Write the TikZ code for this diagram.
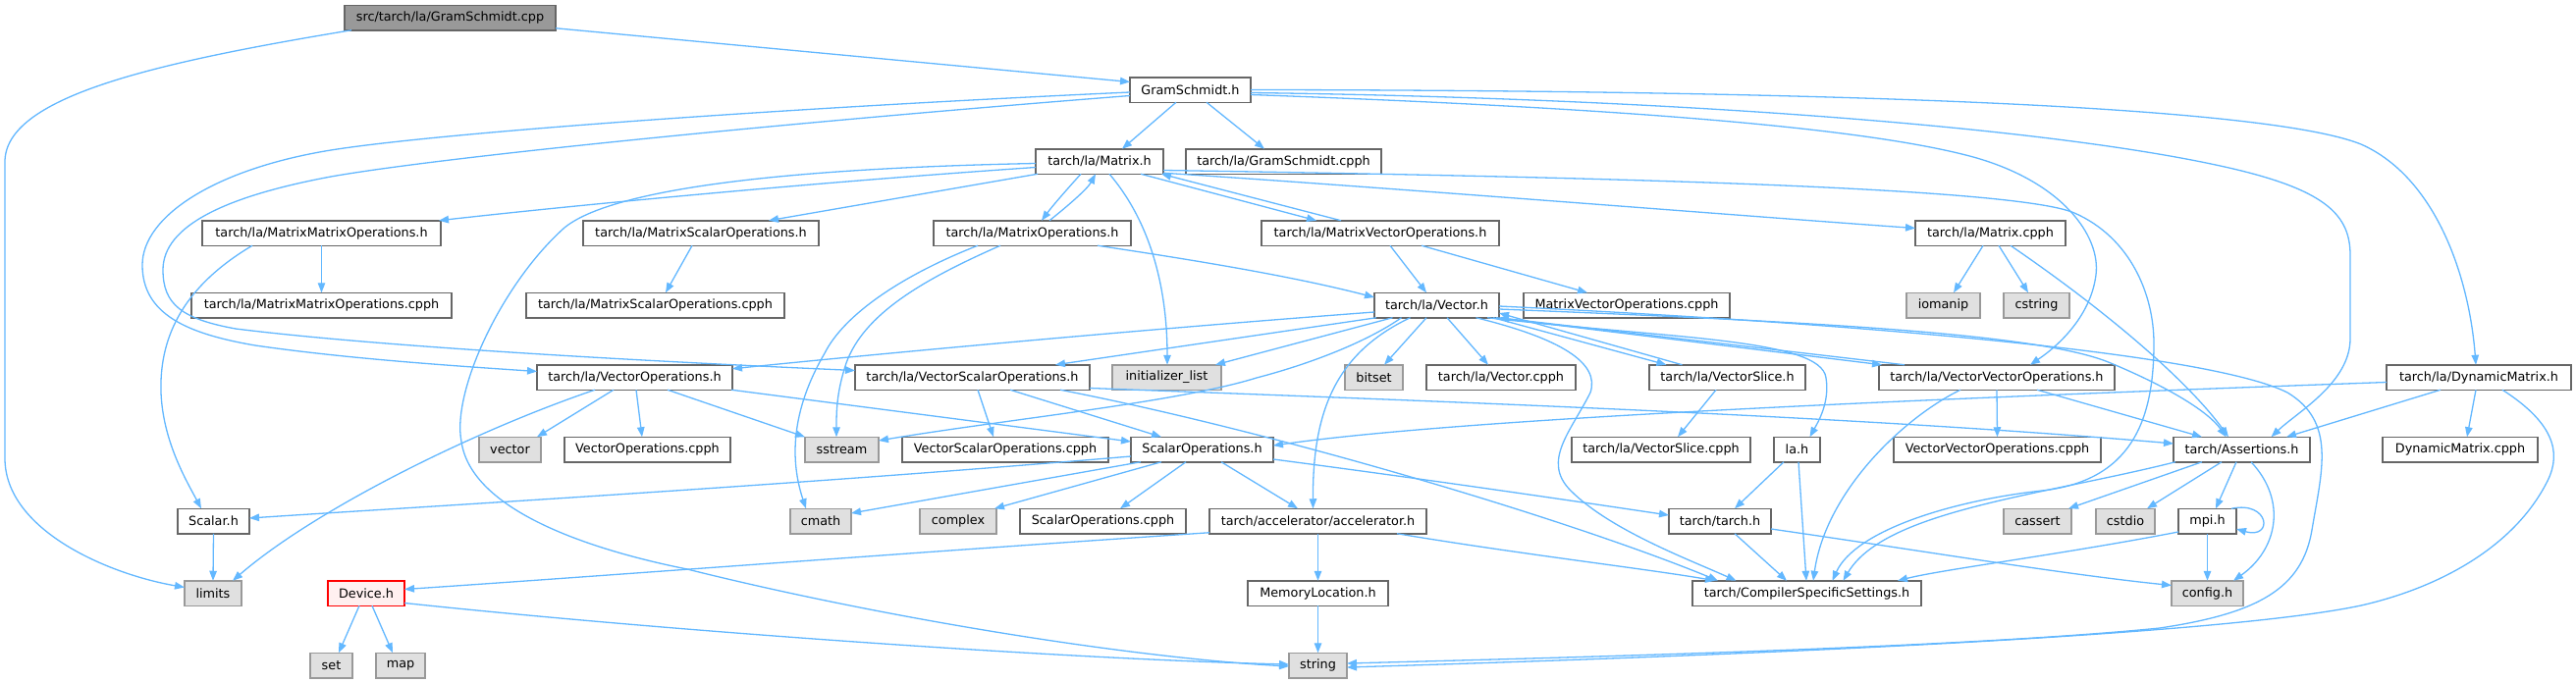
\documentclass[tikz,border=0pt]{standalone}
\usepackage{fontspec}
\setmainfont{DejaVu Sans}
\usetikzlibrary{arrows.meta,calc}
\definecolor{edgec}{HTML}{63B8FF}
\definecolor{bord}{HTML}{666666}
\definecolor{extb}{HTML}{999999}
\definecolor{extf}{HTML}{E0E0E0}
\definecolor{rootf}{HTML}{999999}
\definecolor{devf}{HTML}{FFF0F0}
\definecolor{devb}{HTML}{FF0000}
\tikzset{
 box/.style={draw=bord, fill=white, line width=1.5pt, minimum height=25.5pt, inner sep=0pt, outer sep=0pt, font=\fontsize{12.8pt}{15pt}\selectfont, text=black},
 ext/.style={box, draw=extb, fill=extf},
 rootbox/.style={box, draw=bord, fill=rootf},
 devbox/.style={box, draw=devb, fill=devf},
 e/.style={draw=edgec, line width=1.3pt, -{Triangle[length=10pt,width=7.5pt]}},
}
\newcommand\gnode[6]{\node[#1, minimum width=#4pt] (#2) at (#3,#5) {#6};}
\begin{document}
\begin{tikzpicture}[x=1pt,y=-1pt]
\fill[white] (0,0) rectangle (2624,696);
\useasboundingbox (0,0) rectangle (2624,696);
% row 0
\gnode{rootbox}{gsCpp}{458.5}{215}{18}{src/tarch/la/GramSchmidt.cpp}
% row 1
\gnode{box}{gsH}{1212.5}{123}{91.5}{GramSchmidt.h}
% row 2
\gnode{box}{matH}{1120}{130}{164.5}{tarch/la/Matrix.h}
\gnode{box}{gsCpph}{1307.5}{199}{164.5}{tarch/la/GramSchmidt.cpph}
% row 3
\gnode{box}{mmoH}{327.5}{243}{237.5}{tarch/la/MatrixMatrixOperations.h}
\gnode{box}{msoH}{714}{240}{237.5}{tarch/la/MatrixScalarOperations.h}
\gnode{box}{moH}{1051.5}{201}{237.5}{tarch/la/MatrixOperations.h}
\gnode{box}{mvoH}{1406}{242}{237.5}{tarch/la/MatrixVectorOperations.h}
\gnode{box}{matCpph}{2027.5}{153}{237.5}{tarch/la/Matrix.cpph}
% row 4
\gnode{box}{mmoCpph}{327.5}{265}{311}{tarch/la/MatrixMatrixOperations.cpph}
\gnode{box}{msoCpph}{667.5}{263}{311}{tarch/la/MatrixScalarOperations.cpph}
\gnode{box}{vecH}{1463.5}{127}{311}{tarch/la/Vector.h}
\gnode{box}{mvoCpph}{1657}{210}{311}{MatrixVectorOperations.cpph}
\gnode{ext}{iomanip}{1979.5}{75}{311}{iomanip}
\gnode{ext}{cstring}{2074.5}{67}{311}{cstring}
% row 5
\gnode{box}{voH}{646.5}{199}{384.5}{tarch/la/VectorOperations.h}
\gnode{box}{vsoH}{990.5}{239}{384.5}{tarch/la/VectorScalarOperations.h}
\gnode{ext}{initl}{1188.5}{111}{384.5}{initializer\_list}
\gnode{ext}{bitset}{1399.5}{59}{384.5}{bitset}
\gnode{box}{vecCpph}{1529}{152}{384.5}{tarch/la/Vector.cpph}
\gnode{box}{vsH}{1759.5}{159}{384.5}{tarch/la/VectorSlice.h}
\gnode{box}{vvoH}{2034}{240}{384.5}{tarch/la/VectorVectorOperations.h}
\gnode{box}{dmH}{2525}{188}{384.5}{tarch/la/DynamicMatrix.h}
% row 6
\gnode{ext}{vector}{519.5}{63}{458}{vector}
\gnode{box}{voCpph}{659.5}{169}{458}{VectorOperations.cpph}
\gnode{ext}{sstream}{857.5}{75}{458}{sstream}
\gnode{box}{vsoCpph}{1024}{210}{458}{VectorScalarOperations.cpph}
\gnode{box}{soH}{1224.5}{145}{458}{ScalarOperations.h}
\gnode{box}{vsCpph}{1692}{182}{458}{tarch/la/VectorSlice.cpph}
\gnode{box}{laH}{1830.5}{47}{458}{la.h}
\gnode{box}{vvoCpph}{2034.5}{211}{458}{VectorVectorOperations.cpph}
\gnode{box}{assertH}{2283.5}{139}{458}{tarch/Assertions.h}
\gnode{box}{dmCpph}{2506}{158}{458}{DynamicMatrix.cpph}
% row 7
\gnode{box}{scalarH}{217.5}{73}{531}{Scalar.h}
\gnode{ext}{cmath}{836}{62}{531}{cmath}
\gnode{ext}{complex}{976}{78}{531}{complex}
\gnode{box}{soCpph}{1123.5}{169}{531}{ScalarOperations.cpph}
\gnode{box}{accH}{1342.5}{221}{531}{tarch/accelerator/accelerator.h}
\gnode{box}{tarchH}{1752}{104}{531}{tarch/tarch.h}
\gnode{ext}{cassert}{2075.5}{69}{531}{cassert}
\gnode{ext}{cstdio}{2165}{60}{531}{cstdio}
\gnode{box}{mpiH}{2248.5}{59}{531}{mpi.h}
% row 8
\gnode{ext}{limits}{217}{58}{604.5}{limits}
\gnode{devbox}{device}{373}{78}{604.5}{Device.h}
\gnode{box}{memLoc}{1342.5}{143}{604.5}{MemoryLocation.h}
\gnode{box}{css}{1840.5}{233}{604.5}{tarch/CompilerSpecificSettings.h}
\gnode{ext}{config}{2248.5}{73}{604.5}{config.h}
% row 9
\gnode{ext}{set}{337.5}{43}{678}{set}
\gnode{ext}{map}{408}{50}{678}{map}
\gnode{ext}{string}{1342.5}{59}{678}{string}

% ---- edges ----
\draw[e] ($(gsCpp.south east)+(0,-2)$) -- ($(gsH.west)+(0,-8)$);
\draw[e] ($(gsCpp.south west)+(7,0)$) .. controls (150,65) and (5,100) .. (5,165) -- (5,467) .. controls (5,540) and (110,585) .. ($(limits.west)+(0,-6)$);

\draw[e] ($(gsH.south)+(-14.5,0)$) -- ($(matH.north)+(23,0)$);
\draw[e] ($(gsH.south)+(16.5,0)$) -- ($(gsCpph.north)+(-19.5,0)$);
\draw[e] ($(gsH.west)+(0,2.5)$) .. controls (800,110) and (450,135) .. (337,153) .. controls (220,172) and (145,220) .. (145,270) .. controls (145,320) and (190,340) .. (260,352) .. controls (350,365) and (450,372) .. ($(voH.west)+(0,-6)$);
\draw[e] ($(gsH.west)+(0,6)$) .. controls (800,125) and (450,160) .. (337,180) .. controls (230,200) and (166,230) .. (166,275) .. controls (166,310) and (185,325) .. (240,335) .. controls (400,355) and (700,370) .. ($(vsoH.west)+(0,-7)$);
\draw[e] (gsH.east) .. controls (1800,92) and (2300,105) .. (2405,147) .. controls (2480,180) and (2515,280) .. ($(dmH.north)+(-3,0)$);
\draw[e] ($(gsH.east)+(0,3)$) .. controls (1700,100) and (2100,130) .. (2279,173) .. controls (2370,195) and (2394,220) .. (2394,260) -- (2394,345) .. controls (2394,390) and (2340,420) .. ($(assertH.north)+(30,0)$);
\draw[e] ($(gsH.east)+(0,5)$) .. controls (1650,110) and (1900,130) .. (2010,160) .. controls (2100,185) and (2140,240) .. (2135,280) .. controls (2130,320) and (2100,350) .. ($(vvoH.north)+(34,0)$);

\draw[e] ($(matH.west)+(0,6)$) .. controls (800,188) and (560,212) .. ($(mmoH.north east)+(-2,0)$);
\draw[e] ($(matH.west)+(0,2)$) .. controls (780,172) and (620,195) .. (575,232) .. controls (510,290) and (460,400) .. (470,450) .. controls (480,520) and (600,560) .. (700,580) .. controls (900,630) and (1150,670) .. ($(string.west)+(0,1)$);
\draw[e] ($(matH.south west)+(2,0)$) -- ($(msoH.north)+(69,0)$);
\draw[e] ($(matH.south)+(-19,0)$) .. controls (1085,195) and (1072,210) .. ($(moH.north)+(9.5,0)$);
\draw[e] ($(moH.north)+(17.5,0)$) .. controls (1090,208) and (1108,192) .. ($(matH.south)+(-4,0)$);
\draw[e] ($(matH.south)+(10,0)$) .. controls (1175,230) and (1189,300) .. ($(initl.north)+(0.5,0)$);
\draw[e] ($(matH.south)+(42,0)$) -- ($(mvoH.north)+(-65,0)$);
\draw[e] ($(mvoH.north)+(-40,0)$) -- ($(matH.south east)+(-2,0)$);
\draw[e] ($(matH.south east)+(0,-1)$) .. controls (1400,190) and (1800,222) .. ($(matCpph.west)+(0,-5)$);
\draw[e] ($(matH.east)+(0,9)$) .. controls (1600,180) and (2050,190) .. (2113,217) .. controls (2170,242) and (2194,300) .. (2194,350) .. controls (2194,430) and (2170,490) .. (2080,500) .. controls (1990,510) and (1890,540) .. ($(css.north)+(26,0)$);

\draw[e] ($(moH.south)+(-55.5,0)$) .. controls (920,280) and (860,320) .. (840,360) .. controls (805,420) and (805,470) .. ($(cmath.north)+(-15,0)$);
\draw[e] ($(moH.south)+(-32.5,0)$) .. controls (940,285) and (880,320) .. (862,370) .. controls (852,400) and (852,420) .. ($(sstream.north)+(-5.5,0)$);
\draw[e] ($(moH.south)+(66.5,0)$) .. controls (1250,270) and (1330,285) .. ($(vecH.west)+(0,-8)$);

\draw[e] (mmoH.south) -- (mmoCpph.north);
\draw[e] ($(mmoH.south)+(-70.5,0)$) .. controls (190,290) and (162,340) .. (164,400) .. controls (166,450) and (190,490) .. ($(scalarH.north)+(-12.5,0)$);
\draw[e] ($(msoH.south)+(-9,0)$) -- ($(msoCpph.north)+(10.5,0)$);
\draw[e] ($(mvoH.south)+(10,0)$) -- ($(vecH.north)+(-10.5,0)$);
\draw[e] ($(mvoH.south)+(42,0)$) -- ($(mvoCpph.north)+(-40,0)$);
\draw[e] ($(matCpph.south)+(-7.5,0)$) -- ($(iomanip.north)+(10.5,0)$);
\draw[e] ($(matCpph.south)+(8.5,0)$) -- ($(cstring.north)+(-8.5,0)$);
\draw[e] ($(matCpph.south)+(20.5,0)$) .. controls (2150,320) and (2230,390) .. ($(assertH.north)+(-13.5,0)$);

\draw[e] ($(vecH.west)+(0,7)$) .. controls (1200,333) and (950,355) .. ($(voH.north east)+(0,4)$);
\draw[e] ($(vecH.south west)+(2,0)$) -- ($(vsoH.north)+(84.5,0)$);
\draw[e] ($(vecH.south)+(-45,0)$) -- ($(initl.north east)+(-6,0)$);
\draw[e] ($(vecH.south)+(-36,0)$) .. controls (1390,350) and (1330,372) .. (1280,385) .. controls (1200,410) and (1020,428) .. ($(sstream.east)+(0,-9)$);
\draw[e] ($(vecH.south)+(-27,0)$) .. controls (1360,360) and (1337,420) .. ($(accH.north)+(-5,0)$);
\draw[e] ($(vecH.south)+(-10.5,0)$) -- ($(bitset.north)+(10.5,0)$);
\draw[e] ($(vecH.south)+(10.5,0)$) -- ($(vecCpph.north)+(-13,0)$);
\draw[e] ($(vecH.south east)+(-6,0)$) -- ($(vsH.north)+(-62,0)$);
\draw[e] ($(vsH.north)+(-46,0)$) -- ($(vecH.east)+(0,8)$);
\draw[e] ($(vecH.south east)+(-3,0)$) -- ($(vvoH.north west)+(3,0)$);
\draw[e] ($(vvoH.north west)+(26,0)$) -- (vecH.south east);
\draw[e] ($(vecH.south east)+(-12,0)$) .. controls (1700,345) and (1855,345) .. (1860,385) .. controls (1864,410) and (1852,430) .. ($(laH.north)+(13,0)$);
\draw[e] ($(vecH.south)+(40,0)$) .. controls (1590,345) and (1630,370) .. (1620,400) .. controls (1600,440) and (1570,470) .. (1600,500) .. controls (1640,540) and (1720,570) .. ($(css.north)+(-72,0)$);
\draw[e] ($(vecH.east)+(0,4)$) .. controls (1850,328) and (2080,340) .. (2150,370) .. controls (2210,395) and (2250,420) .. ($(assertH.north)+(-16,0)$);
\draw[e] ($(vecH.east)+(0,1)$) .. controls (1900,330) and (2250,360) .. (2330,400) .. controls (2380,430) and (2365,480) .. (2355,540) .. controls (2345,600) and (2300,625) .. (2200,640) .. controls (2000,660) and (1600,670) .. ($(string.east)+(0,-2)$);

\draw[e] ($(dmH.south)+(24,0)$) .. controls (2600,430) and (2610,460) .. (2595,490) .. controls (2560,560) and (2480,600) .. (2405,617) .. controls (2250,650) and (1700,670) .. ($(string.east)+(0,2)$);
\draw[e] ($(dmH.south)+(-39,0)$) -- ($(assertH.north east)+(-24,0)$);
\draw[e] ($(dmH.south)+(-3,0)$) -- ($(dmCpph.north)+(7,0)$);
\draw[e] ($(dmH.west)+(0,5)$) .. controls (2000,405) and (1500,425) .. ($(soH.east)+(0,-4)$);

\draw[e] ($(vsH.south)+(-11.5,0)$) -- ($(vsCpph.north)+(17,0)$);
\draw[e] (vvoH.south) -- (vvoCpph.north);
\draw[e] ($(vvoH.south)+(41,0)$) -- ($(assertH.north)+(-40.5,0)$);
\draw[e] ($(vvoH.south)+(-37,0)$) .. controls (1940,425) and (1860,500) .. ($(css.north)+(6.5,0)$);

\draw[e] ($(assertH.south)+(-40.5,0)$) -- ($(cassert.north east)+(-3,0)$);
\draw[e] ($(assertH.south)+(-20.5,0)$) -- ($(cstdio.north)+(22,0)$);
\draw[e] ($(assertH.south)+(-5.5,0)$) -- ($(mpiH.north)+(8.5,0)$);
\draw[e] ($(assertH.south)+(9.5,0)$) .. controls (2330,510) and (2320,560) .. ($(config.north east)+(-10,0)$);
\draw[e] ($(assertH.south west)+(2,0)$) .. controls (2080,505) and (1920,520) .. ($(css.north)+(37,0)$);

\draw[e] (mpiH.south) -- (config.north);
\draw[e] ($(mpiH.north east)+(-5,0)$) .. controls (2312,510) and (2316,550) .. ($(mpiH.east)+(0,8)$);
\draw[e] ($(mpiH.west)+(0,11)$) .. controls (2100,565) and (1980,580) .. ($(css.north east)+(-24,0)$);

\draw[e] ($(soH.west)+(0,7)$) .. controls (800,495) and (450,515) .. ($(scalarH.east)+(0,-3)$);
\draw[e] ($(soH.south west)+(10,0)$) -- ($(cmath.east)+(0,-8)$);
\draw[e] ($(soH.south)+(-41.5,0)$) -- ($(complex.north east)+(-2,0)$);
\draw[e] ($(soH.south)+(-16.5,0)$) -- ($(soCpph.north)+(17.5,0)$);
\draw[e] ($(soH.south)+(19.5,0)$) -- ($(accH.north)+(-20.5,0)$);
\draw[e] ($(soH.east)+(0,10)$) .. controls (1450,488) and (1600,510) .. ($(tarchH.west)+(0,-6)$);

\draw[e] ($(vsoH.south)+(5.5,0)$) -- ($(vsoCpph.north)+(-12,0)$);
\draw[e] ($(vsoH.south)+(38.5,0)$) -- ($(soH.north)+(-41.5,0)$);
\draw[e] ($(vsoH.east)+(0,11)$) .. controls (1500,410) and (1900,425) .. ($(assertH.west)+(0,-6)$);
\draw[e] ($(vsoH.south)+(89.5,0)$) .. controls (1300,440) and (1600,530) .. ($(css.north west)+(26,0)$);

\draw[e] ($(voH.south)+(-21.5,0)$) -- ($(vector.north)+(27.5,0)$);
\draw[e] ($(voH.south)+(1.5,0)$) -- ($(voCpph.north)+(-5.5,0)$);
\draw[e] ($(voH.south)+(-40.5,0)$) .. controls (480,440) and (320,520) .. ($(limits.north)+(20,0)$);
\draw[e] ($(voH.south)+(33.5,0)$) -- (sstream.north west);
\draw[e] ($(voH.south east)+(-1,0)$) -- ($(soH.west)+(0,-8)$);

\draw[e] ($(laH.south)+(-13.5,0)$) -- ($(tarchH.north)+(15,0)$);
\draw[e] ($(laH.south)+(1.5,0)$) -- ($(css.north)+(-0.5,0)$);
\draw[e] ($(tarchH.south)+(15,0)$) -- ($(css.north)+(-20.5,0)$);
\draw[e] ($(tarchH.east)+(0,8)$) .. controls (1950,560) and (2100,585) .. ($(config.west)+(0,-8)$);

\draw[e] (accH.south) -- (memLoc.north);
\draw[e] ($(accH.south west)+(0,-1)$) .. controls (900,565) and (600,588) .. ($(device.east)+(0,-4)$);
\draw[e] ($(accH.south)+(80.5,0)$) .. controls (1550,565) and (1680,580) .. ($(css.north west)+(23,0)$);
\draw[e] (memLoc.south) -- (string.north);

\draw[e] ($(device.south)+(-7,0)$) -- ($(set.north)+(7.5,0)$);
\draw[e] ($(device.south)+(6,0)$) -- ($(map.north)+(-8,0)$);
\draw[e] ($(device.east)+(0,10)$) .. controls (700,645) and (1100,672) .. ($(string.west)+(0,-1)$);
\draw[e] (scalarH.south) -- (limits.north);
\end{tikzpicture}
\end{document}
